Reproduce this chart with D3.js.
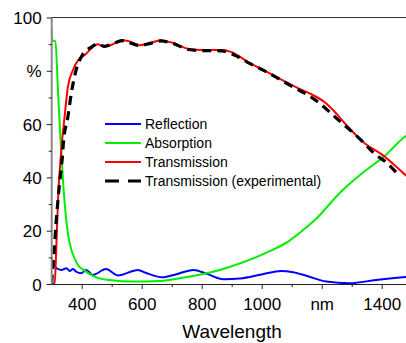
<!DOCTYPE html>
<html>
<head>
<meta charset="utf-8">
<script src="https://cdn.jsdelivr.net/npm/d3@7.9.0/dist/d3.min.js"></script>
<style>
  html, body { margin: 0; padding: 0; background: #fff; }
  svg { display: block; overflow: hidden; }
  text { font-family: "Liberation Sans", Arial, sans-serif; fill: #000; }
</style>
</head>
<body>
<svg id="chart" width="406" height="343"></svg>
<script>
// values: [wavelength nm, percent]
const reflection = [
  [300, 9.5], [303, 8.6], [316, 5.9], [332, 5.3], [349, 5.9], [360, 4.9], [371, 5.6],
  [382, 4.6], [398, 4.0], [415, 5.3], [437, 3.4], [481, 5.6], [521, 3.2], [588, 5.3],
  [613, 4.2], [669, 2.5], [713, 3.6], [773, 5.3], [817, 3.8], [873, 1.8], [928, 2.1],
  [1000, 3.6], [1065, 4.9], [1105, 4.4], [1149, 3.1], [1215, 0.9], [1293, 0.3],
  [1381, 1.5], [1469, 2.5], [1500, 2.8]
];
const absorption = [
  [300, 95.5], [301, 91.5], [312, 91], [322, 70], [331, 51], [340, 35], [354, 19],
  [365, 13], [376, 9.7], [388, 7], [404, 5.5], [437, 3.1], [459, 2.1], [492, 1.5],
  [569, 0.9], [658, 1.1], [707, 1.8], [724, 2.1], [817, 4.0], [895, 6.5], [980, 10],
  [1030, 12.5], [1088, 15.9], [1130, 19.5], [1177, 24], [1265, 34.7], [1342, 42.2],
  [1409, 47.9], [1472, 54.8], [1500, 57]
];
const transmission = [
  [300, 0], [310, 0], [315, 12.8], [321, 31.5], [332, 50.3], [343, 62.8], [354, 74],
  [371, 80.3], [388, 84], [410, 85.9], [438, 89], [453, 90], [475, 89],
  [500, 89.8], [535, 91.5], [560, 91], [591, 89.6], [630, 90.5], [663, 91.4], [700, 90.6],
  [757, 88.2], [800, 87.8], [866, 87.8], [900, 87], [956, 83.2], [1000, 80.6], [1044, 78],
  [1121, 73.5], [1160, 71.5], [1210, 68.2], [1240, 65], [1276, 60.4], [1342, 52.9],
  [1409, 47.9], [1472, 41.6], [1500, 39]
];
const experimental = [
  [300, 0], [301, 2], [308, 12], [314, 22], [325, 36.5], [336, 48.4], [339, 53],
  [354, 62.8], [366, 72], [380, 79.7], [400, 85.5], [434, 89], [453, 90.2], [475, 89.2],
  [500, 90], [535, 91.3], [591, 89.5], [630, 90.3], [663, 91.2], [700, 90.4], [757, 88],
  [800, 87.6], [866, 87.5], [922, 85.2], [956, 83], [1011, 79.9], [1099, 74.3],
  [1177, 69.2], [1254, 61.7], [1331, 54], [1375, 49], [1419, 45.3], [1452, 41.4]
];

const legendLabels = ['Reflection', 'Absorption', 'Transmission', 'Transmission (experimental)'];
const xMajor = [400, 600, 800, 1000, 1200, 1400];
const xMinor = [500, 700, 900, 1100, 1300, 1500];
const yMajor = [0, 20, 40, 60, 80, 100];
const yMinor = [10, 30, 50, 70, 90];

const series = [
  { data: reflection, color: '#0000ff', width: 2, dash: null },
  { data: absorption, color: '#00ee00', width: 2, dash: null },
  { data: transmission, color: '#ff0000', width: 2, dash: null },
  { data: experimental, color: '#000000', width: 3.2, dash: '9,6' }
];

const svg = d3.select('#chart');
const m = { left: 51.7, right: 411.7, top: 17.5, bottom: 284 };

const x = d3.scaleLinear().domain([300, 1500]).range([m.left, m.right]);
const y = d3.scaleLinear().domain([0, 100]).range([m.bottom, m.top]);

svg.append('clipPath').attr('id', 'clip')
  .append('rect').attr('x', m.left).attr('y', m.top - 3)
  .attr('width', m.right - m.left).attr('height', m.bottom - m.top + 3);

// top frame line
svg.append('line')
  .attr('x1', m.left).attr('x2', m.right).attr('y1', m.top).attr('y2', m.top)
  .attr('stroke', '#333').attr('stroke-width', 1);

// curves
const line = d3.line()
  .x(d => x(d[0]))
  .y(d => y(d[1]))
  .curve(d3.curveMonotoneX);

const g = svg.append('g').attr('clip-path', 'url(#clip)');
series.forEach(s => {
  g.append('path')
    .attr('d', line(s.data))
    .attr('fill', 'none')
    .attr('stroke', s.color)
    .attr('stroke-width', s.width)
    .attr('stroke-dasharray', s.dash)
    .attr('stroke-linejoin', 'round');
});

// x axis
const xAxis = svg.append('g').attr('transform', `translate(0,${m.bottom})`)
  .call(d3.axisBottom(x).tickValues(xMajor).tickSize(5)
    .tickFormat(d => d === 1200 ? 'nm' : d));
svg.append('g').attr('transform', `translate(0,${m.bottom})`)
  .call(d3.axisBottom(x).tickValues(xMinor).tickSize(3).tickFormat(''))
  .select('.domain').remove();
xAxis.select('.domain').attr('stroke', '#222').attr('d', `M${m.left},0.5H${m.right}`);
xAxis.selectAll('text').attr('font-size', 17).attr('dy', '1.05em');

// y axis
const yAxis = svg.append('g').attr('transform', `translate(${m.left},0)`)
  .call(d3.axisLeft(y).tickValues(yMajor).tickSize(5).tickPadding(5)
    .tickFormat(d => d === 80 ? '%' : d));
svg.append('g').attr('transform', `translate(${m.left},0)`)
  .call(d3.axisLeft(y).tickValues(yMinor).tickSize(3).tickFormat(''))
  .select('.domain').remove();
yAxis.select('.domain').attr('stroke', '#888').attr('stroke-width', 2)
  .attr('d', `M0,${m.top}V${m.bottom}`);
yAxis.selectAll('text').attr('font-size', 17).attr('dy', '0.36em');

svg.selectAll('.tick line').attr('stroke', '#222');

// axis title
svg.append('text')
  .attr('x', 232).attr('y', 338)
  .attr('text-anchor', 'middle')
  .attr('font-size', 19)
  .text('Wavelength');

// legend
const legend = svg.append('g').attr('transform', 'translate(105,124)');
legendLabels.forEach((label, i) => {
  const row = legend.append('g').attr('transform', `translate(0,${i * 19})`);
  row.append('line')
    .attr('x1', 0).attr('x2', 36).attr('y1', 0).attr('y2', 0)
    .attr('stroke', series[i].color)
    .attr('stroke-width', series[i].width)
    .attr('stroke-dasharray', series[i].dash ? '14,9' : null);
  row.append('text')
    .attr('x', 40).attr('y', 0).attr('dy', '0.36em')
    .attr('font-size', 14)
    .text(label);
});
</script>
</body>
</html>
